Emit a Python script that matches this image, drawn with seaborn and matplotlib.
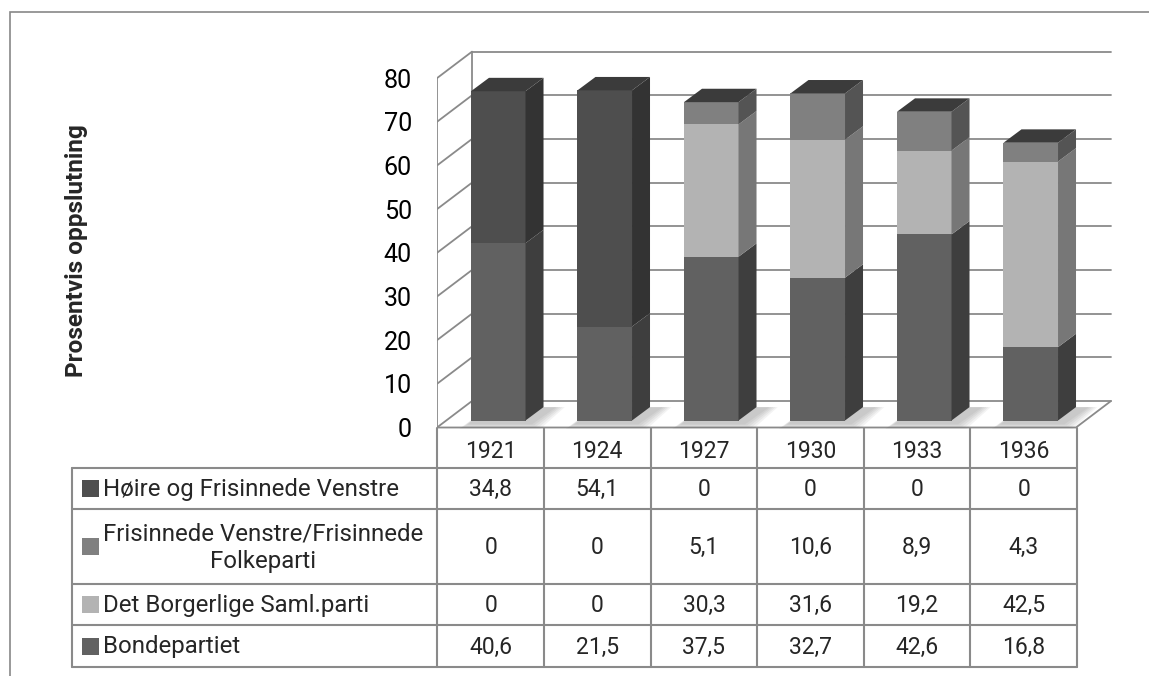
import matplotlib
matplotlib.use("Agg")
import matplotlib.pyplot as plt
import pandas as pd
import seaborn as sns
from matplotlib.patches import Rectangle

# ---- data -------------------------------------------------------------
years = ["1921", "1924", "1927", "1930", "1933", "1936"]
bondepartiet = [40.6, 21.5, 37.5, 32.7, 42.6, 16.8]
borgerlige = [0, 0, 30.3, 31.6, 19.2, 42.5]
frisinnede = [0, 0, 5.1, 10.6, 8.9, 4.3]
hoire = [34.8, 54.1, 0, 0, 0, 0]
y_ticks = [0, 10, 20, 30, 40, 50, 60, 70, 80]

# stacking order, bottom to top
series = [
    ("Bondepartiet", bondepartiet, "#616161", "#3e3e3e"),
    ("Det Borgerlige Saml.parti", borgerlige, "#b3b3b3", "#777777"),
    ("Frisinnede Venstre/Frisinnede\nFolkeparti", frisinnede, "#808080", "#545454"),
    ("Høire og Frisinnede Venstre", hoire, "#4e4e4e", "#333333"),
]
# table rows are listed top to bottom
table_order = [3, 2, 1, 0]

# ---- geometry (pixels -> data units) ----------------------------------
W, H = 1149, 676
PX_X = 106.5   # px per category
PX_Y = 4.367   # px per percentage point
Y0 = 427.5     # px row of value 0 on the front plane
WX, WY = 35 / PX_X, 26.5 / PX_Y        # wall depth
FX, FY = 8 / PX_X, 7 / PX_Y            # bar front offset into the floor
DX, DY = 18 / PX_X, 13.4 / PX_Y        # bar depth
BAR_W = 0.512
GRID = "#8a8a8a"
FONT = ["Roboto", "DejaVu Sans"]

sns.set_theme(style="white")
plt.rcParams["font.family"] = FONT

fig = plt.figure(figsize=(W / 100, H / 100), dpi=100)
renderer = fig.canvas.get_renderer()


def fit_size(text, target_px, weight="normal"):
    """Font size (pt) that gives text the wanted pixel width."""
    t = fig.text(0, 0, text, fontsize=10, fontweight=weight)
    w = t.get_window_extent(renderer).width
    t.remove()
    return 10 * target_px / w


TXT = fit_size("Høire og Frisinnede Venstre", 296)
NUM = fit_size("1927", 51)
TICK = fit_size("80", 28)
TXT_B = fit_size("Prosentvis oppslutning", 253, "bold")

ax = fig.add_axes([437 / W, 1 - 432 / H, (1125 - 437) / W, (432 - 40) / H])
ax.set_xlim(-0.5, -0.5 + (1125 - 437) / PX_X)
ax.set_ylim(-(432 - Y0) / PX_Y, (Y0 - 40) / PX_Y)

# walls and floor
lw = 1.3
back_l = -0.5 + WX
back_r = len(years) - 0.5 + WX
for v in y_ticks:
    ax.plot([-0.5, back_l], [v, v + WY], color=GRID, lw=lw, zorder=1)
    ax.plot([back_l, back_r], [v + WY, v + WY], color=GRID, lw=lw, zorder=1)
ax.plot([-0.5, -0.5], [0, y_ticks[-1]], color=GRID, lw=lw, zorder=1)
ax.plot([back_l, back_l], [WY, y_ticks[-1] + WY], color=GRID, lw=lw, zorder=1)
ax.plot([-0.5, len(years) - 0.5, back_r], [0, 0, WY], color=GRID, lw=lw, zorder=1)

# front faces: cumulative totals drawn tallest first
n_years = len(years)
cum = [0.0] * n_years
layers = []
for name, vals, front, side in series:
    bottoms = list(cum)
    cum = [c + v for c, v in zip(cum, vals)]
    layers.append((name, bottoms, list(cum), front, side))

pos = [i + FX for i in range(n_years)]
for name, bottoms, tops, front, side in reversed(layers):
    df = pd.DataFrame({"x": pos, "total": tops})
    sns.barplot(data=df, x="x", y="total", native_scale=True, width=BAR_W,
                color=front, saturation=1, errorbar=None, bottom=FY,
                linewidth=0, ax=ax)
for p in ax.patches:
    p.set_zorder(3)

# soft floor shadows, side and top faces
for i in range(n_years):
    x1 = i + FX + BAR_W / 2
    x0 = i + FX - BAR_W / 2
    for g in range(5):
        e = 0.02 * g
        ax.fill([x0 - 0.03 - e, x1 + 0.06 + e, x1 + DX + 0.12 + e, x0 + DX],
                [FY - 0.9 - 0.25 * g, FY - 0.9 - 0.25 * g, FY + DY, FY + DY],
                color="#555555", alpha=0.07, lw=0, zorder=2)
    for name, bottoms, tops, front, side in layers:
        b, t = bottoms[i], tops[i]
        if t - b <= 0:
            continue
        ax.fill([x1, x1 + DX, x1 + DX, x1],
                [b + FY, b + FY + DY, t + FY + DY, t + FY],
                color=side, lw=0, zorder=3)
    top = layers[-1][2][i]
    ax.fill([x0, x1, x1 + DX, x0 + DX],
            [top + FY, top + FY, top + FY + DY, top + FY + DY],
            color="#3b3b3b", lw=0, zorder=3)

ax.set_yticks(y_ticks)
ax.set_yticklabels([str(v) for v in y_ticks])
ax.tick_params(axis="y", length=0, pad=18, labelsize=TICK, labelcolor="black")
ax.set_xticks([])
ax.set_xlabel("")
ax.set_ylabel("")
for s in ax.spines.values():
    s.set_visible(False)

fig.text(76.5 / W, 1 - 251 / H, "Prosentvis oppslutning", rotation=90,
         ha="center", va="center", fontsize=TXT_B, fontweight="bold")

# ---- data table -------------------------------------------------------
TL, TR = 72, 1077
row_edges = [0, 40, 81, 156, 197, 239]   # px from the header top
tax = fig.add_axes([TL / W, 1 - 667 / H, (TR - TL) / W, (667 - 428) / H])
x_left = -0.5 - (437 - TL) / PX_X
tax.set_xlim(x_left, n_years - 0.5)
tax.set_ylim(row_edges[-1], row_edges[0])
tax.axis("off")

tl = 1.5
for yy in row_edges[1:]:
    tax.plot([x_left, n_years - 0.5], [yy, yy], color=GRID, lw=tl, clip_on=False)
tax.plot([x_left, x_left], [row_edges[1], row_edges[-1]], color=GRID, lw=tl,
         clip_on=False)
for k in range(n_years + 1):
    tax.plot([k - 0.5, k - 0.5], [row_edges[0], row_edges[-1]], color=GRID,
             lw=tl, clip_on=False)

for k, yr in enumerate(years):
    tax.text(k, (row_edges[0] + row_edges[1]) / 2 + 4, yr, ha="center",
             va="center", fontsize=NUM)

for r, si in enumerate(table_order):
    name, vals, front, side = series[si]
    yc = (row_edges[r + 1] + row_edges[r + 2]) / 2
    tax.add_patch(Rectangle((x_left + 10 / PX_X, yc - 8.5), 17 / PX_X, 17,
                            color=front, lw=0, clip_on=False))
    tax.text(x_left + 31 / PX_X, yc + 1, name, ha="left", va="center",
             fontsize=TXT, multialignment="center", linespacing=1.25)
    for k, v in enumerate(vals):
        tax.text(k, yc + 1, f"{v:g}".replace(".", ","), ha="center",
                 va="center", fontsize=NUM)

# outer chart frame
fig.add_artist(Rectangle((10 / W, -0.05), 1.1, 1.05 - 12.5 / H,
                         transform=fig.transFigure, fill=False,
                         edgecolor="#888888", lw=1.2))

fig.savefig("out.png", dpi=100)
